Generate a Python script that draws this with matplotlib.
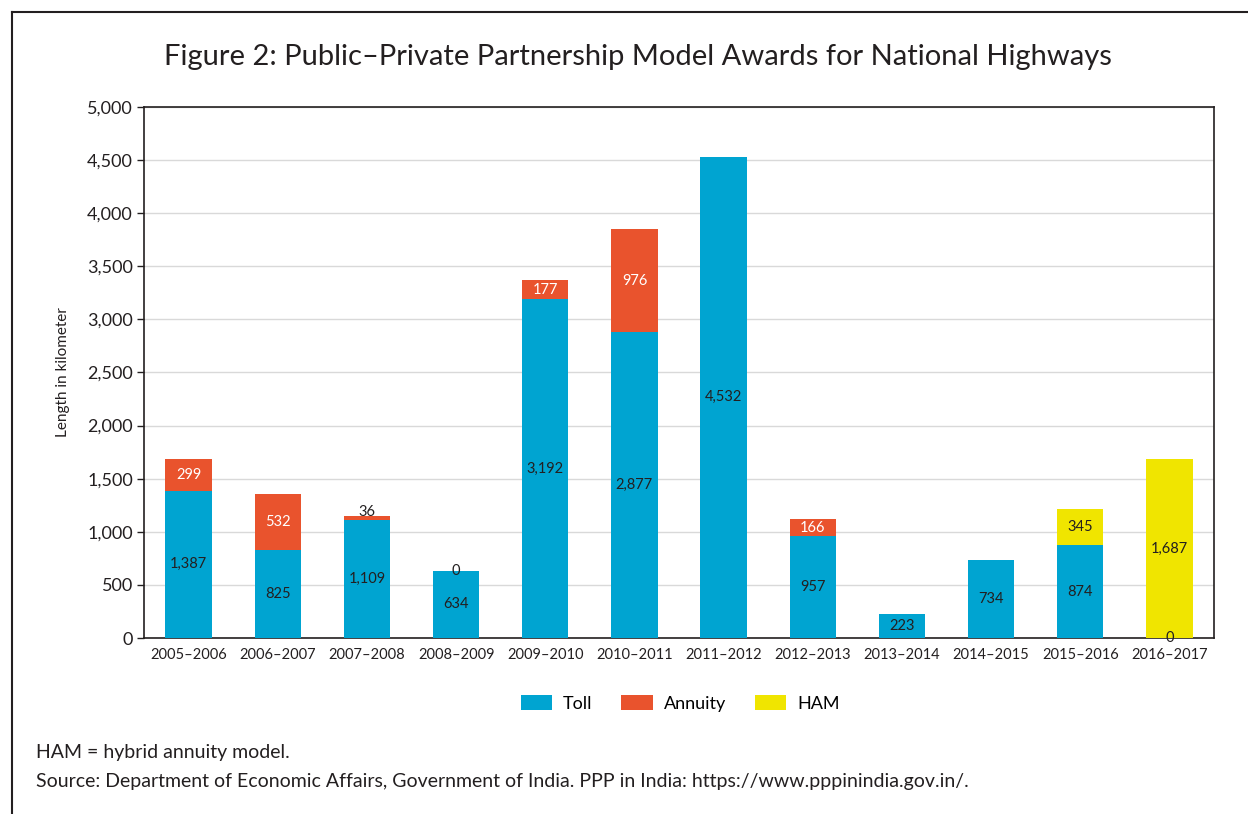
import numpy as np
import matplotlib.pyplot as plt
from matplotlib.lines import Line2D
from matplotlib.ticker import FuncFormatter

plt.rcParams['font.family'] = ['Lato', 'DejaVu Sans']

years = ['2005–2006', '2006–2007', '2007–2008', '2008–2009', '2009–2010', '2010–2011',
         '2011–2012', '2012–2013', '2013–2014', '2014–2015', '2015–2016', '2016–2017']
toll = [1387, 825, 1109, 634, 3192, 2877, 4532, 957, 223, 734, 874, 0]
annuity = [299, 532, 36, 0, 177, 976, np.nan, 166, np.nan, np.nan, np.nan, np.nan]
ham = [np.nan, np.nan, np.nan, np.nan, np.nan, np.nan, np.nan, np.nan, np.nan, np.nan, 345, 1687]

c_toll = '#00A4D1'
c_ann = '#E9532D'
c_ham = '#F0E500'
dark = '#231F20'

toll_v = np.array(toll, dtype=float)
ann_v = np.nan_to_num(np.array(annuity, dtype=float))
ham_v = np.nan_to_num(np.array(ham, dtype=float))
x = np.arange(len(years))
w = 0.52

fig = plt.figure(figsize=(12.48, 8.14), dpi=100)
ax = fig.add_axes([0.1154, 0.2162, 0.8574, 0.6524])

b1 = ax.bar(x, toll_v, w, color=c_toll, label='Toll', zorder=3)
b2 = ax.bar(x, ann_v, w, bottom=toll_v, color=c_ann, label='Annuity', zorder=3)
b3 = ax.bar(x, ham_v, w, bottom=toll_v + ann_v, color=c_ham, label='HAM', zorder=3)

# data labels, centred in each segment
for i in range(len(years)):
    ax.text(x[i], toll_v[i] / 2, f'{toll[i]:,}', ha='center', va='center',
            fontsize=10.5, color=dark, zorder=4)
    if not np.isnan(annuity[i]):
        col = 'white' if annuity[i] > 100 else dark
        yy = toll_v[i] + ann_v[i] / 2
        if 0 < annuity[i] < 100:
            yy += 60
        ax.text(x[i], yy, f'{int(annuity[i]):,}', ha='center', va='center',
                fontsize=10.5, color=col, zorder=4)
    if not np.isnan(ham[i]):
        ax.text(x[i], toll_v[i] + ann_v[i] + ham_v[i] / 2, f'{int(ham[i]):,}',
                ha='center', va='center', fontsize=10.5, color=dark, zorder=4)

ax.set_xlim(-0.5, len(years) - 0.5)
ax.set_ylim(0, 5000)
ax.set_yticks(np.arange(0, 5001, 500))
ax.yaxis.set_major_formatter(FuncFormatter(lambda v, p: f'{int(v):,}'))
ax.set_xticks(x)
ax.set_xticklabels(years)
ax.tick_params(axis='y', length=5, width=1, color=dark, labelsize=13, labelcolor=dark, pad=3)
ax.tick_params(axis='x', length=0, labelsize=10.5, labelcolor=dark, pad=7)
ax.grid(axis='y', color='#D9D9D9', linewidth=1, zorder=0)
ax.set_axisbelow(True)
for s in ax.spines.values():
    s.set_color(dark)
    s.set_linewidth(1.2)
ax.set_ylabel('Length in kilometer', fontsize=11, color=dark, labelpad=12)

fig.text(0.511, 0.930, 'Figure 2: Public–Private Partnership Model Awards for National Highways',
         ha='center', va='center', fontsize=21, color=dark)

fig.legend(handles=[b1, b2, b3], labels=['Toll', 'Annuity', 'HAM'], loc='center',
           bbox_to_anchor=(0.545, 0.136), ncol=3, frameon=False, fontsize=13,
           handlelength=1.75, handleheight=0.95, columnspacing=1.6, handletextpad=0.6)

fig.text(0.029, 0.076, 'HAM = hybrid annuity model.', fontsize=14, color=dark, va='center')
fig.text(0.029, 0.040, 'Source: Department of Economic Affairs, Government of India. PPP in India: https://www.pppinindia.gov.in/.',
         fontsize=14, color=dark, va='center')

# frame around the figure (left and top)
fig.add_artist(Line2D([12 / 1248, 12 / 1248], [0, 1 - 12 / 814], color=dark, linewidth=1.5, transform=fig.transFigure))
fig.add_artist(Line2D([12 / 1248, 1], [1 - 12 / 814, 1 - 12 / 814], color=dark, linewidth=1.5, transform=fig.transFigure))

fig.savefig('out.png', dpi=100)
